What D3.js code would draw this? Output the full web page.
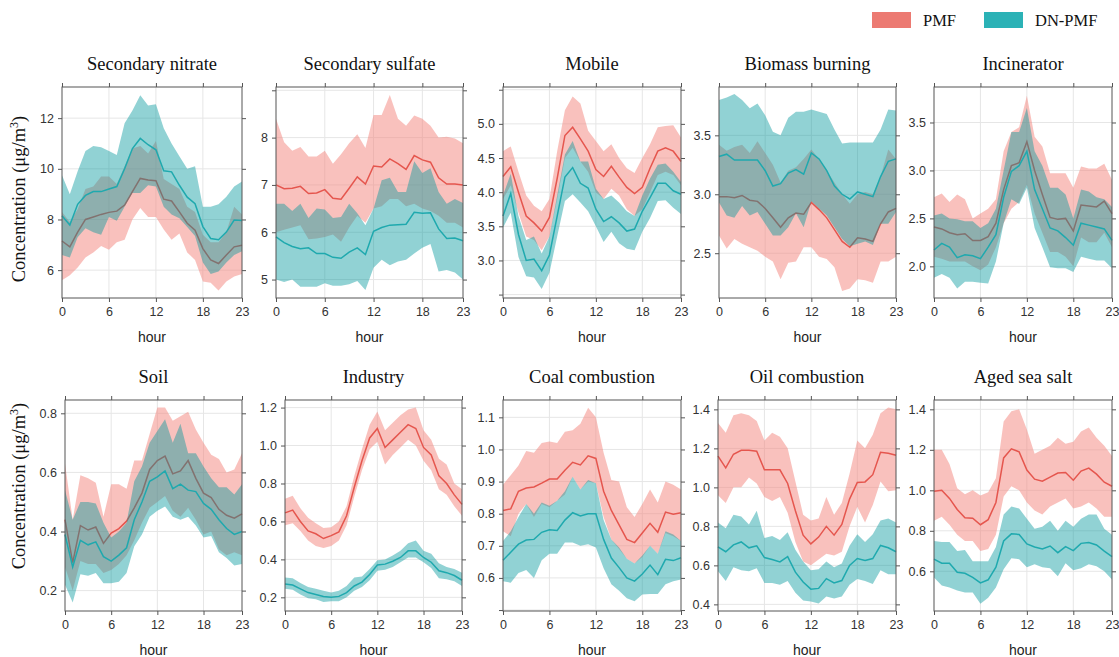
<!DOCTYPE html>
<html>
<head>
<meta charset="utf-8">
<script src="https://cdn.jsdelivr.net/npm/d3@7"></script>
<style>
  html, body { margin: 0; padding: 0; background: #fff; }
  svg { display: block; }
  .tick text { font-family: "Liberation Sans", Arial, sans-serif; font-size: 12.5px; fill: #333; }
  .tick line { stroke: #555; }
  .domain { display: none; }
</style>
</head>
<body>
<svg id="chart" width="1119" height="657"></svg>
<script>
// hourly profiles: mean line plus lower / upper band for each source
var hours = [0,1,2,3,4,5,6,7,8,9,10,11,12,13,14,15,16,17,18,19,20,21,22,23];
var titles = ['Secondary nitrate', 'Secondary sulfate', 'Mobile', 'Biomass burning', 'Incinerator',
  'Soil', 'Industry', 'Coal combustion', 'Oil combustion', 'Aged sea salt'];
var seriesNames = ['PMF', 'DN-PMF'];

var nitratePmf   = [7.15,6.92,7.5,8.0,8.1,8.2,8.28,8.33,8.57,9.1,9.62,9.56,9.53,8.8,8.73,8.3,7.85,7.58,6.85,6.4,6.26,6.6,6.92,6.98];
var nitratePmfLo = [5.6,5.8,6.1,6.5,6.7,6.95,6.8,7.1,7.2,8.0,8.45,8.1,8.1,7.6,7.2,7.45,6.7,6.4,5.55,5.5,5.2,5.55,5.75,5.85];
var nitratePmfHi = [8.3,7.9,8.4,9.2,9.3,9.7,9.7,9.4,10.1,10.8,10.9,10.6,11.1,9.6,9.4,9.2,8.5,8.3,7.4,7.1,7.1,7.5,8.5,8.2];
var nitrateDn    = [8.15,7.78,8.6,8.95,9.1,9.1,9.2,9.3,10.0,10.8,11.2,10.95,10.75,9.92,9.88,9.35,8.88,8.62,7.72,7.25,7.2,7.5,7.98,7.96];
var nitrateDnLo  = [6.6,6.5,7.3,7.65,7.5,7.4,8.1,7.95,8.5,9.05,9.05,9.35,9.3,8.5,8.2,8.05,7.7,7.35,6.3,5.85,5.95,6.3,6.6,6.75];
var nitrateDnHi  = [9.75,9.0,9.9,10.7,10.9,10.85,10.7,10.55,11.8,12.3,12.9,12.5,12.55,11.6,11.0,10.5,10.0,10.1,8.5,8.5,8.6,8.9,9.3,9.5];

var sulfatePmf   = [7.0,6.92,6.93,6.97,6.82,6.83,6.9,6.72,6.7,6.93,7.17,7.02,7.4,7.38,7.55,7.45,7.33,7.62,7.53,7.48,7.15,7.02,7.02,7.0];
var sulfatePmfLo = [6.0,6.05,6.1,6.15,5.85,5.87,5.9,5.95,5.8,6.1,6.35,6.2,6.5,6.55,6.7,6.7,6.55,6.6,6.5,6.45,6.35,6.2,6.2,6.1];
var sulfatePmfHi = [8.4,7.9,7.72,7.8,7.6,7.6,7.72,7.45,7.65,7.88,8.07,7.78,8.48,8.48,8.9,8.4,8.25,8.47,8.4,8.25,8.0,8.02,7.98,7.88];
var sulfateDn    = [5.9,5.78,5.7,5.65,5.67,5.55,5.55,5.47,5.45,5.58,5.67,5.53,6.02,6.1,6.15,6.16,6.17,6.42,6.4,6.41,6.07,5.87,5.88,5.82];
var sulfateDnLo  = [5.0,4.95,5.0,4.85,4.85,4.85,4.92,4.87,4.87,4.9,4.97,4.78,5.25,5.42,5.3,5.38,5.42,5.55,5.67,5.75,5.17,5.2,5.15,5.0];
var sulfateDnHi  = [6.6,6.6,6.45,6.6,6.3,6.5,6.48,6.3,6.32,6.6,6.4,6.15,6.5,7.1,7.15,6.85,6.85,7.5,7.25,7.35,6.85,6.6,6.7,6.62];

var mobilePmf   = [4.23,4.37,4.0,3.65,3.55,3.43,3.63,4.2,4.83,4.95,4.78,4.6,4.33,4.23,4.38,4.22,4.07,3.98,4.07,4.35,4.6,4.65,4.6,4.45];
var mobilePmfLo = [3.9,4.1,3.7,3.35,3.3,3.15,3.35,3.9,4.5,4.65,4.45,4.3,4.0,3.9,4.05,3.95,3.75,3.65,3.75,4.0,4.25,4.3,4.25,4.1];
var mobilePmfHi = [4.6,4.67,4.3,3.95,3.8,3.72,3.9,4.6,5.2,5.4,5.3,4.9,4.75,4.6,4.7,4.5,4.35,4.28,4.5,4.7,4.95,4.97,4.98,4.8];
var mobileDn    = [3.65,3.98,3.38,3.0,3.02,2.85,3.08,3.65,4.22,4.36,4.13,4.06,3.75,3.57,3.64,3.55,3.43,3.46,3.72,3.92,4.13,4.13,4.02,3.97];
var mobileDnLo  = [3.48,3.7,3.05,2.77,2.75,2.58,2.82,3.35,3.87,3.97,3.85,3.72,3.5,3.27,3.42,3.25,3.17,3.15,3.42,3.62,3.87,3.88,3.77,3.68];
var mobileDnHi  = [3.95,4.27,3.65,3.3,3.35,3.1,3.35,3.95,4.55,4.75,4.45,4.45,4.05,3.9,3.95,3.85,3.72,3.65,3.95,4.2,4.4,4.42,4.3,4.15];

var biomassPmf   = [2.98,2.98,2.97,2.99,2.95,2.94,2.88,2.8,2.72,2.8,2.84,2.83,2.93,2.87,2.8,2.7,2.6,2.55,2.63,2.62,2.6,2.75,2.85,2.88];
var biomassPmfLo = [2.65,2.54,2.62,2.58,2.55,2.52,2.47,2.43,2.28,2.42,2.43,2.55,2.55,2.47,2.45,2.38,2.18,2.2,2.28,2.27,2.25,2.43,2.43,2.47];
var biomassPmfHi = [3.42,3.37,3.4,3.42,3.35,3.45,3.35,3.25,3.1,3.2,3.23,3.3,3.38,3.3,3.2,3.1,3.0,2.92,3.0,3.02,3.0,3.15,3.38,3.3];
var biomassDn    = [3.32,3.34,3.29,3.29,3.29,3.29,3.2,3.07,3.09,3.18,3.21,3.17,3.35,3.3,3.2,3.07,3.0,2.96,3.02,3.0,2.98,3.15,3.28,3.3];
var biomassDnLo  = [2.93,2.82,2.8,2.9,2.82,2.85,2.75,2.65,2.65,2.72,2.84,2.72,2.94,2.88,2.82,2.72,2.62,2.56,2.58,2.6,2.57,2.75,2.75,2.85];
var biomassDnHi  = [3.8,3.82,3.85,3.8,3.73,3.77,3.67,3.53,3.5,3.65,3.7,3.7,3.72,3.7,3.68,3.55,3.43,3.44,3.44,3.44,3.44,3.55,3.72,3.71];

var incinPmf   = [2.41,2.39,2.35,2.33,2.34,2.27,2.27,2.31,2.45,2.8,3.05,3.08,3.3,3.0,2.75,2.51,2.49,2.5,2.37,2.64,2.63,2.62,2.68,2.55];
var incinPmfLo = [2.1,2.08,2.05,2.05,2.05,2.0,1.96,2.02,2.2,2.45,2.6,2.67,2.85,2.55,2.35,2.15,2.15,2.1,2.0,2.3,2.25,2.25,2.35,2.2];
var incinPmfHi = [2.72,2.76,2.67,2.75,2.7,2.5,2.55,2.6,2.7,3.2,3.4,3.45,3.78,3.35,3.25,2.97,2.97,2.97,2.82,3.04,3.02,3.02,3.07,2.9];
var incinDn    = [2.17,2.24,2.2,2.09,2.12,2.11,2.08,2.2,2.33,2.72,2.99,3.05,3.2,2.8,2.6,2.4,2.37,2.3,2.22,2.45,2.43,2.41,2.39,2.27];
var incinDnLo  = [1.88,1.92,1.88,1.77,1.84,1.84,1.83,1.82,2.05,2.45,2.7,2.65,2.82,2.4,2.2,1.99,1.98,1.98,1.94,2.1,2.08,2.06,2.06,1.98];
var incinDnHi  = [2.53,2.55,2.5,2.49,2.47,2.47,2.4,2.45,2.6,3.0,3.4,3.4,3.65,3.2,3.05,2.82,2.82,2.75,2.5,2.8,2.78,2.72,2.7,2.62];

var soilPmf   = [0.44,0.295,0.42,0.405,0.415,0.36,0.395,0.41,0.435,0.48,0.53,0.61,0.64,0.655,0.595,0.605,0.64,0.58,0.53,0.515,0.475,0.455,0.445,0.46];
var soilPmfLo = [0.28,0.2,0.3,0.29,0.29,0.26,0.27,0.29,0.32,0.37,0.43,0.48,0.5,0.52,0.47,0.45,0.48,0.44,0.39,0.4,0.34,0.32,0.33,0.32];
var soilPmfHi = [0.63,0.44,0.59,0.58,0.565,0.45,0.56,0.56,0.545,0.64,0.64,0.73,0.82,0.82,0.775,0.79,0.805,0.745,0.7,0.66,0.645,0.6,0.61,0.665];
var soilDn    = [0.39,0.28,0.37,0.355,0.365,0.315,0.3,0.32,0.345,0.44,0.5,0.57,0.585,0.605,0.545,0.56,0.54,0.535,0.495,0.475,0.44,0.41,0.39,0.4];
var soilDnLo  = [0.22,0.16,0.255,0.25,0.26,0.225,0.225,0.23,0.26,0.35,0.39,0.45,0.47,0.485,0.45,0.44,0.45,0.42,0.38,0.385,0.33,0.31,0.285,0.29];
var soilDnHi  = [0.54,0.44,0.5,0.5,0.495,0.43,0.38,0.4,0.43,0.57,0.62,0.7,0.74,0.78,0.7,0.765,0.665,0.665,0.62,0.58,0.55,0.55,0.525,0.56];

var industryPmf   = [0.645,0.66,0.6,0.55,0.535,0.51,0.525,0.545,0.63,0.78,0.92,1.04,1.09,0.99,1.03,1.07,1.11,1.09,0.99,0.95,0.84,0.8,0.74,0.69];
var industryPmfLo = [0.58,0.59,0.55,0.5,0.47,0.46,0.47,0.5,0.58,0.73,0.87,0.98,1.02,0.9,0.95,0.99,1.03,1.0,0.92,0.87,0.77,0.74,0.68,0.63];
var industryPmfHi = [0.72,0.735,0.67,0.62,0.59,0.565,0.57,0.6,0.68,0.84,0.98,1.11,1.18,1.08,1.12,1.16,1.19,1.2,1.08,1.03,0.93,0.9,0.8,0.77];
var industryDn    = [0.27,0.265,0.245,0.225,0.215,0.205,0.2,0.205,0.225,0.26,0.28,0.32,0.37,0.375,0.39,0.41,0.445,0.445,0.41,0.385,0.34,0.33,0.315,0.29];
var industryDnLo  = [0.245,0.24,0.215,0.195,0.19,0.175,0.18,0.18,0.2,0.235,0.255,0.29,0.34,0.345,0.36,0.385,0.41,0.41,0.385,0.355,0.3,0.295,0.285,0.26];
var industryDnHi  = [0.305,0.3,0.275,0.255,0.245,0.235,0.225,0.235,0.26,0.305,0.31,0.35,0.395,0.4,0.42,0.445,0.485,0.5,0.445,0.43,0.38,0.36,0.35,0.33];

var coalPmf   = [0.81,0.815,0.87,0.88,0.883,0.895,0.908,0.908,0.935,0.96,0.952,0.98,0.972,0.87,0.81,0.765,0.72,0.71,0.74,0.77,0.742,0.805,0.798,0.803];
var coalPmfLo = [0.745,0.73,0.8,0.83,0.79,0.83,0.82,0.84,0.86,0.915,0.875,0.9,0.895,0.79,0.72,0.69,0.66,0.645,0.665,0.7,0.675,0.74,0.73,0.715];
var coalPmfHi = [0.89,0.92,0.95,0.995,0.99,1.02,1.025,1.02,1.055,1.06,1.08,1.13,1.1,0.99,0.905,0.9,0.82,0.79,0.83,0.875,0.835,0.9,0.89,0.875];
var coalDn    = [0.655,0.68,0.705,0.718,0.72,0.742,0.75,0.748,0.78,0.803,0.793,0.8,0.8,0.72,0.662,0.632,0.6,0.59,0.612,0.64,0.61,0.658,0.654,0.663];
var coalDnLo  = [0.59,0.585,0.615,0.625,0.6,0.655,0.675,0.675,0.71,0.71,0.7,0.705,0.695,0.63,0.58,0.56,0.537,0.527,0.548,0.55,0.55,0.58,0.59,0.595];
var coalDnHi  = [0.715,0.745,0.79,0.83,0.8,0.835,0.825,0.84,0.87,0.915,0.875,0.905,0.895,0.78,0.72,0.695,0.66,0.645,0.67,0.7,0.675,0.745,0.735,0.715];

var oilPmf   = [1.16,1.1,1.17,1.19,1.19,1.185,1.09,1.09,1.09,1.02,0.88,0.755,0.71,0.745,0.8,0.755,0.81,0.94,1.025,1.028,1.065,1.18,1.175,1.165];
var oilPmfLo = [0.96,0.92,1.0,1.0,1.05,1.02,0.95,0.93,0.95,0.87,0.72,0.62,0.6,0.63,0.66,0.65,0.67,0.8,0.9,0.82,0.91,1.03,0.98,0.985];
var oilPmfHi = [1.33,1.28,1.37,1.38,1.37,1.34,1.24,1.28,1.26,1.2,1.03,0.86,0.83,0.84,0.95,0.86,0.92,1.07,1.24,1.2,1.27,1.38,1.41,1.4];
var oilDn    = [0.695,0.67,0.705,0.72,0.69,0.7,0.64,0.63,0.618,0.645,0.565,0.515,0.478,0.482,0.532,0.51,0.522,0.6,0.635,0.625,0.635,0.702,0.69,0.67];
var oilDnLo  = [0.57,0.52,0.59,0.575,0.57,0.585,0.51,0.51,0.5,0.52,0.46,0.42,0.415,0.405,0.44,0.43,0.44,0.5,0.53,0.52,0.505,0.575,0.555,0.555];
var oilDnHi  = [0.82,0.79,0.86,0.85,0.81,0.88,0.74,0.75,0.73,0.77,0.68,0.62,0.575,0.58,0.62,0.59,0.61,0.7,0.76,0.72,0.76,0.83,0.84,0.82];

var seasaltPmf   = [0.995,1.0,0.96,0.905,0.865,0.862,0.83,0.855,0.94,1.16,1.205,1.19,1.1,1.055,1.045,1.065,1.085,1.088,1.05,1.095,1.11,1.08,1.04,1.02];
var seasaltPmfLo = [0.85,0.87,0.83,0.78,0.75,0.75,0.7,0.71,0.78,0.97,1.02,1.0,0.94,0.9,0.88,0.92,0.94,0.96,0.91,0.92,0.94,0.91,0.87,0.87];
var seasaltPmfHi = [1.2,1.2,1.13,1.01,0.98,1.0,0.975,0.99,1.06,1.34,1.39,1.4,1.3,1.18,1.2,1.22,1.26,1.23,1.24,1.29,1.31,1.26,1.22,1.17];
var seasaltDn    = [0.66,0.64,0.64,0.595,0.59,0.57,0.543,0.558,0.62,0.75,0.785,0.782,0.735,0.72,0.71,0.725,0.692,0.722,0.702,0.738,0.742,0.73,0.7,0.673];
var seasaltDnLo  = [0.57,0.53,0.52,0.505,0.495,0.495,0.44,0.47,0.52,0.61,0.665,0.66,0.62,0.635,0.62,0.615,0.575,0.64,0.605,0.615,0.635,0.625,0.6,0.56];
var seasaltDnHi  = [0.75,0.745,0.745,0.7,0.705,0.65,0.65,0.65,0.72,0.88,0.92,0.91,0.86,0.81,0.82,0.85,0.8,0.85,0.82,0.86,0.88,0.88,0.81,0.78];

// axis ranges and y tick steps, one per panel
var yDomains = [[4.9, 13.23], [4.61, 9.07], [2.45, 5.54], [2.12, 3.91], [1.67, 3.87],
  [0.131, 0.845], [0.128, 1.24], [0.497, 1.154], [0.366, 1.448], [0.404, 1.446]];
var ySteps = [2, 1, 0.5, 0.5, 0.5, 0.2, 0.2, 0.1, 0.2, 0.2];
var xTicks = [0, 6, 12, 18, 23];

(function () {
  'use strict';
  var svg = d3.select('#chart');
  var colors = {
    pmfLine: '#e5564e', pmfBand: '#f3847c',
    dnLine: '#1fa9ae', dnBand: 'rgb(0,150,155)'
  };

  var sources = [
    [nitratePmf, nitratePmfLo, nitratePmfHi, nitrateDn, nitrateDnLo, nitrateDnHi],
    [sulfatePmf, sulfatePmfLo, sulfatePmfHi, sulfateDn, sulfateDnLo, sulfateDnHi],
    [mobilePmf, mobilePmfLo, mobilePmfHi, mobileDn, mobileDnLo, mobileDnHi],
    [biomassPmf, biomassPmfLo, biomassPmfHi, biomassDn, biomassDnLo, biomassDnHi],
    [incinPmf, incinPmfLo, incinPmfHi, incinDn, incinDnLo, incinDnHi],
    [soilPmf, soilPmfLo, soilPmfHi, soilDn, soilDnLo, soilDnHi],
    [industryPmf, industryPmfLo, industryPmfHi, industryDn, industryDnLo, industryDnHi],
    [coalPmf, coalPmfLo, coalPmfHi, coalDn, coalDnLo, coalDnHi],
    [oilPmf, oilPmfLo, oilPmfHi, oilDn, oilDnLo, oilDnHi],
    [seasaltPmf, seasaltPmfLo, seasaltPmfHi, seasaltDn, seasaltDnLo, seasaltDnHi]
  ];

  // panel frames
  var rowTop = [87, 400];
  var plotH = 211;
  var colLeft = [[62, 276, 503, 719, 934], [65, 285, 503, 718, 934]];
  var colRight = [[242, 463, 681, 896, 1112], [242, 462, 681, 896, 1112]];

  sources.forEach(function (s, i) {
    var row = Math.floor(i / 5), col = i % 5;
    var left = colLeft[row][col], right = colRight[row][col];
    var top = rowTop[row], bottom = top + plotH;
    drawPanel(i, s, left, right, top, bottom);
  });

  function drawPanel(i, s, left, right, top, bottom) {
    var x = d3.scaleLinear().domain([0, 23]).range([left, right]);
    var y = d3.scaleLinear().domain(yDomains[i]).range([bottom, top]);
    var step = ySteps[i];
    var dom = yDomains[i];
    var yTicks = d3.range(Math.ceil(dom[0] / step - 1e-9), Math.floor(dom[1] / step + 1e-9) + 1)
      .map(function (k) { return +(k * step).toFixed(2); });
    var fmt = step >= 1 ? d3.format('d') : d3.format('.1f');
    var g = svg.append('g');

    // grid
    g.append('g').selectAll('line').data(yTicks).join('line')
      .attr('x1', left).attr('x2', right)
      .attr('y1', function (d) { return y(d); }).attr('y2', function (d) { return y(d); })
      .attr('stroke', '#e6e6e6');
    g.append('g').selectAll('line').data(xTicks.slice(1, -1)).join('line')
      .attr('y1', top).attr('y2', bottom)
      .attr('x1', function (d) { return x(d); }).attr('x2', function (d) { return x(d); })
      .attr('stroke', '#e6e6e6');

    var area = function (lo, hi) {
      return d3.area()
        .x(function (d) { return x(d); })
        .y0(function (d, k) { return y(lo[k]); })
        .y1(function (d, k) { return y(hi[k]); })(hours);
    };
    var line = function (v) {
      return d3.line()
        .x(function (d) { return x(d); })
        .y(function (d, k) { return y(v[k]); })(hours);
    };

    g.append('path').attr('d', area(s[1], s[2]))
      .attr('fill', colors.pmfBand).attr('fill-opacity', 0.5);
    g.append('path').attr('d', line(s[0]))
      .attr('fill', 'none').attr('stroke', colors.pmfLine).attr('stroke-width', 1.5);
    g.append('path').attr('d', area(s[4], s[5]))
      .attr('fill', colors.dnBand).attr('fill-opacity', 0.43);
    g.append('path').attr('d', line(s[3]))
      .attr('fill', 'none').attr('stroke', colors.dnLine).attr('stroke-width', 1.5);

    // axes on all four sides, labels only left and bottom
    var edgeOk = function (d) { return y(d) - top > 6 && bottom - y(d) > 6; };
    g.append('g').attr('transform', 'translate(' + left + ',0)')
      .call(d3.axisLeft(y).tickValues(yTicks).tickSize(4).tickPadding(4)
        .tickFormat(function (d) { return edgeOk(d) ? fmt(d) : ''; }));
    g.append('g').attr('transform', 'translate(' + right + ',0)')
      .call(d3.axisRight(y).tickValues(yTicks).tickSize(4).tickFormat(''));
    g.append('g').attr('transform', 'translate(0,' + bottom + ')')
      .call(d3.axisBottom(x).tickValues(xTicks).tickSize(4).tickPadding(5).tickFormat(d3.format('d')));
    g.append('g').attr('transform', 'translate(0,' + top + ')')
      .call(d3.axisTop(x).tickValues(xTicks).tickSize(4).tickFormat(''));

    g.append('rect')
      .attr('x', left).attr('y', top).attr('width', right - left).attr('height', bottom - top)
      .attr('fill', 'none').attr('stroke', '#555');

    g.append('text')
      .attr('x', (left + right) / 2).attr('y', top - 17)
      .attr('text-anchor', 'middle')
      .style('font-family', '"Liberation Serif", "Times New Roman", serif')
      .style('font-size', '18.5px').attr('fill', '#111')
      .text(titles[i]);

    g.append('text')
      .attr('x', (left + right) / 2).attr('y', bottom + 44)
      .attr('text-anchor', 'middle')
      .style('font-family', '"Liberation Sans", Arial, sans-serif')
      .style('font-size', '14px').attr('fill', '#222')
      .text('hour');
  }

  // y axis titles
  [199, 486].forEach(function (cy) {
    var t = svg.append('text')
      .attr('transform', 'translate(25,' + cy + ') rotate(-90)')
      .attr('text-anchor', 'middle')
      .style('font-family', '"Liberation Serif", "Times New Roman", serif')
      .style('font-size', '18.5px').attr('fill', '#111');
    t.append('tspan').text('Concentration (μg/m');
    t.append('tspan').attr('dy', -7).style('font-size', '12px').text('3');
    t.append('tspan').attr('dy', 7).text(')');
  });

  // legend
  var legendX = [872, 984];
  var legendFill = ['#ec7a72', '#2bb2b6'];
  seriesNames.forEach(function (name, k) {
    svg.append('rect')
      .attr('x', legendX[k]).attr('y', 12).attr('width', 39).attr('height', 16)
      .attr('fill', legendFill[k]);
    svg.append('text')
      .attr('x', legendX[k] + 51).attr('y', 26)
      .style('font-family', '"Liberation Serif", "Times New Roman", serif')
      .style('font-size', '16.5px').attr('fill', '#111')
      .text(name);
  });
})();
</script>
</body>
</html>
